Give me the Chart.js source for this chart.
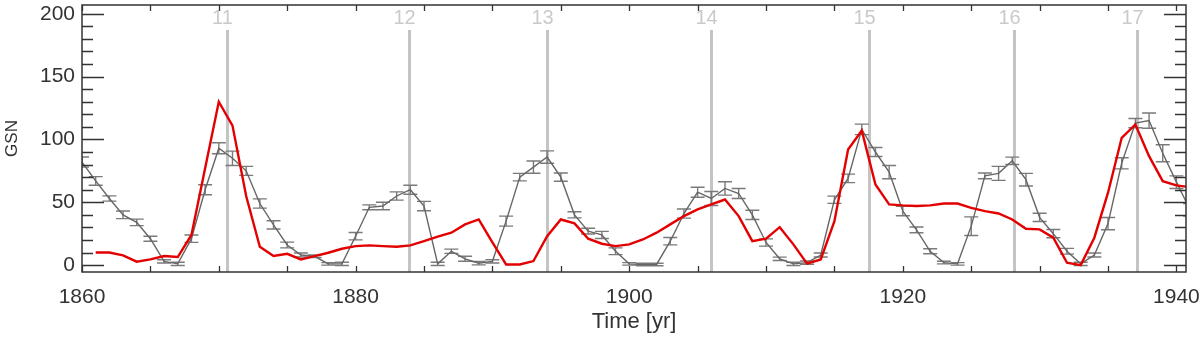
<!DOCTYPE html>
<html>
<head>
<meta charset="utf-8">
<script src="https://cdn.jsdelivr.net/npm/chart.js@4"></script>
<style>
  html, body { margin: 0; padding: 0; background: #fff; }
  #wrap { width: 1200px; height: 337px; }
</style>
</head>
<body>
<div id="wrap"><canvas id="gsnChart" width="1200" height="337"></canvas></div>
<script>
// annual values
const years = [1860, 1861, 1862, 1863, 1864, 1865, 1866, 1867, 1868, 1869,
  1870, 1871, 1872, 1873, 1874, 1875, 1876, 1877, 1878, 1879,
  1880, 1881, 1882, 1883, 1884, 1885, 1886, 1887, 1888, 1889,
  1890, 1891, 1892, 1893, 1894, 1895, 1896, 1897, 1898, 1899,
  1900, 1901, 1902, 1903, 1904, 1905, 1906, 1907, 1908, 1909,
  1910, 1911, 1912, 1913, 1914, 1915, 1916, 1917, 1918, 1919,
  1920, 1921, 1922, 1923, 1924, 1925, 1926, 1927, 1928, 1929,
  1930, 1931, 1932, 1933, 1934, 1935, 1936, 1937, 1938, 1939,
  1940, 1941];

const gsn = [82, 67, 53, 40, 34, 21, 3, 1, 21, 60,
  93, 85, 75, 49, 32, 16, 8, 7, 1, 1,
  23, 46, 47, 55, 60, 47, 1, 11, 5, 1.5,
  3, 35, 70, 78, 86, 70, 40, 27, 24, 11,
  1, 0.5, 0.5, 19, 41, 58, 53, 61, 57, 40,
  18, 5, 1, 2, 8, 52, 69, 108, 90, 74,
  43, 28, 11, 2, 1, 31, 71, 73, 83, 68,
  38, 25, 11, 1, 8, 33, 81, 113, 115, 89,
  66, 44];

const gsnErr = [4, 3.4, 2.1, 3, 2.6, 2, 1.3, 1.3, 2.9, 4,
  4.4, 5.7, 3.6, 3.7, 3.3, 2.3, 1.6, 1, 1, 1.3,
  2.9, 1.9, 3, 3.3, 3.6, 3.7, 1.3, 1.7, 2, 1.3,
  1.3, 4, 3, 4.9, 4.9, 3.3, 2.4, 2.3, 2.8, 2.7,
  1, 1, 1, 2.9, 3.6, 4, 5.6, 5.3, 4, 3.7,
  2.9, 1.3, 1.3, 1.3, 1.6, 2.9, 3.4, 4.2, 3.6, 5.3,
  3.7, 2.3, 2, 1, 1, 7.4, 2.3, 5.6, 2.9, 5,
  3.3, 3.3, 2.3, 1.3, 1.6, 4.9, 4.4, 3.7, 6.1, 6.8,
  5, 5];

const model = [null, 10, 10, 7.7, 2.7, 4.5, 7.2, 6.4, 24, 77,
  130, 111, 55, 14.6, 7.2, 9, 4.5, 7.2, 9.8, 13,
  15.1, 15.7, 15.1, 14.6, 15.7, 19.1, 22.6, 25.8, 32.4, 36.3,
  18, 0.5, 0.5, 3.2, 23, 36.3, 33.2, 21, 17, 15.1,
  16.5, 20.4, 25.8, 32.4, 39, 44.3, 48.3, 52.2, 39, 19.1,
  21, 30.2, 16.5, 1.1, 4.5, 35, 92, 107, 64.2, 48.3,
  47.5, 47, 47.5, 49, 49, 45.6, 43, 41.1, 36.3, 28.9,
  28.4, 21.8, 1.9, 0, 21.8, 57.6, 101.3, 111.9, 86.7, 66.8,
  63.4, 62];

// solar cycle maxima (vertical lines)
const cycleNumbers = ['11', '12', '13', '14', '15', '16', '17'];
const cycleMaxima = [1870.6, 1883.9, 1894.0, 1906.0, 1917.5, 1928.1, 1937.1];

const xTicks = [1860, 1865, 1870, 1875, 1880, 1885, 1890, 1895, 1900, 1905,
  1910, 1915, 1920, 1925, 1930, 1935, 1940];
const xLabelTicks = [1860, 1880, 1900, 1920, 1940];
const yTicks = [0, 10, 20, 30, 40, 50, 60, 70, 80, 90, 100,
  110, 120, 130, 140, 150, 160, 170, 180, 190, 200];
const yLabelTicks = [0, 50, 100, 150, 200];

const FONT = "'Liberation Sans', Arial, sans-serif";

// cycle markers + error bars under the lines
const underlay = {
  id: 'underlay',
  beforeDatasetsDraw(chart) {
    const { ctx, chartArea: a, scales: { x, y } } = chart;
    ctx.save();
    ctx.strokeStyle = '#c4c4c4';
    ctx.lineWidth = 3;
    ctx.fillStyle = '#cacaca';
    ctx.font = '20px ' + FONT;
    ctx.textAlign = 'center';
    ctx.textBaseline = 'middle';
    cycleMaxima.forEach((yr, i) => {
      const px = Math.round(x.getPixelForValue(yr)) + 0.5;
      ctx.beginPath();
      ctx.moveTo(px, 30);
      ctx.lineTo(px, a.bottom);
      ctx.stroke();
      ctx.fillText(cycleNumbers[i], px - 5, 18);
    });

    ctx.beginPath();
    ctx.rect(a.left, a.top, a.right - a.left, a.bottom - a.top);
    ctx.clip();
    ctx.strokeStyle = '#7a7a7a';
    ctx.lineWidth = 1.4;
    years.forEach((yr, i) => {
      const px = x.getPixelForValue(yr);
      const hi = y.getPixelForValue(gsn[i] + gsnErr[i]);
      const lo = y.getPixelForValue(gsn[i] - gsnErr[i]);
      ctx.beginPath();
      ctx.moveTo(px, hi); ctx.lineTo(px, lo);
      ctx.moveTo(px - 7, hi); ctx.lineTo(px + 7, hi);
      ctx.moveTo(px - 7, lo); ctx.lineTo(px + 7, lo);
      ctx.stroke();
    });
    ctx.restore();
  },
  afterDraw(chart) {
    // axis box with inward ticks on all four sides
    const { ctx, chartArea: a, scales: { x, y } } = chart;
    ctx.save();
    ctx.strokeStyle = '#333';
    ctx.lineWidth = 1.5;
    ctx.strokeRect(a.left, a.top, a.right - a.left, a.bottom - a.top);
    ctx.lineWidth = 1.3;
    ctx.beginPath();
    yTicks.forEach(v => {
      const py = Math.round(y.getPixelForValue(v)) + 0.5;
      const len = yLabelTicks.includes(v) ? 22 : 11;
      ctx.moveTo(a.left, py); ctx.lineTo(a.left + len, py);
      ctx.moveTo(a.right, py); ctx.lineTo(a.right - len, py);
    });
    xTicks.forEach(v => {
      const px = Math.round(x.getPixelForValue(v)) + 0.5;
      ctx.moveTo(px, a.bottom); ctx.lineTo(px, a.bottom - 6);
      ctx.moveTo(px, a.top); ctx.lineTo(px, a.top + 6);
    });
    ctx.stroke();
    ctx.restore();
  }
};

new Chart(document.getElementById('gsnChart').getContext('2d'), {
  type: 'line',
  data: {
    datasets: [
      {
        label: 'model',
        data: years.map((yr, i) => ({ x: yr, y: model[i] })),
        borderColor: 'rgb(228, 0, 0)',
        borderWidth: 2.4,
        pointRadius: 0,
        tension: 0,
        spanGaps: false,
        order: 0
      },
      {
        label: 'GSN',
        data: years.map((yr, i) => ({ x: yr, y: gsn[i] })),
        borderColor: '#666666',
        borderWidth: 1.4,
        pointRadius: 0,
        tension: 0,
        order: 1
      }
    ]
  },
  options: {
    responsive: false,
    animation: false,
    events: [],
    layout: { padding: { left: 0, right: 14, top: 5, bottom: 0 } },
    plugins: { legend: { display: false }, tooltip: { enabled: false } },
    scales: {
      x: {
        type: 'linear',
        min: 1860,
        max: 1940.7,
        afterBuildTicks: s => { s.ticks = xTicks.map(v => ({ value: v })); },
        afterFit: s => { s.height = 65; s.paddingLeft = 0; s.paddingRight = 0; },
        grid: { display: false, drawTicks: false },
        border: { display: false },
        ticks: {
          autoSkip: false,
          maxRotation: 0,
          padding: 13,
          color: '#333',
          font: { family: FONT, size: 21 },
          callback: v => xLabelTicks.includes(v) ? String(v) : ''
        },
        title: {
          display: true,
          text: 'Time [yr]',
          color: '#333',
          font: { family: FONT, size: 22 },
          padding: { top: 0, bottom: 2 }
        }
      },
      y: {
        min: -5.5,
        max: 207,
        afterBuildTicks: s => { s.ticks = yTicks.map(v => ({ value: v })); },
        afterFit: s => { s.width = 82; s.paddingTop = 0; s.paddingBottom = 0; },
        grid: { display: false, drawTicks: false },
        border: { display: false },
        ticks: {
          autoSkip: false,
          padding: 7,
          color: '#333',
          font: { family: FONT, size: 21 },
          callback: v => yLabelTicks.includes(v) ? String(v) : ''
        },
        title: {
          display: true,
          text: 'GSN',
          color: '#333',
          font: { family: FONT, size: 17 },
          padding: { top: 2, bottom: 0 }
        }
      }
    }
  },
  plugins: [underlay]
});
</script>
</body>
</html>
